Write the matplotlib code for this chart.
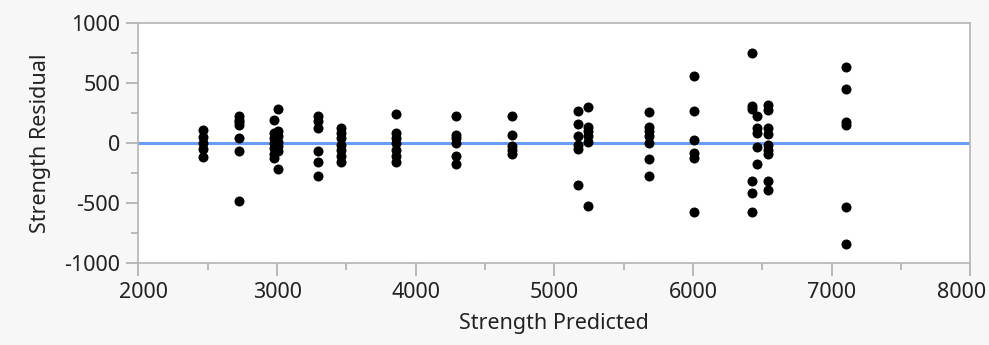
import matplotlib.pyplot as plt
from matplotlib.transforms import ScaledTranslation

plt.rcParams['font.family'] = ['Noto Sans', 'DejaVu Sans']
plt.rcParams['axes.unicode_minus'] = False

# predicted strength of each group, and the residuals measured at it
predicted = [2463, 2727, 2980, 3010, 3297, 3459, 3856, 4289, 4697,
             5169, 5241, 5686, 6005, 6424, 6460, 6544, 7104]
residuals = [
    [105, 45, 0, -55, -115],
    [225, 192, 170, 150, 39, -72, -482],
    [190, 80, 40, 0, -40, -90, -130],
    [284, 95, 55, 10, -30, -70, -220],
    [220, 184, 123, -72, -156, -281],
    [123, 81, 40, -20, -58, -114, -156],
    [240, 81, 39, -3, -58, -109, -156],
    [225, 67, 39, -3, -109, -175],
    [225, 67, -25, -58, -92],
    [270, 156, 53, -17, -53, -351],
    [298, 136, 95, 53, 11, -524],
    [256, 136, 95, 53, -3, -134, -273],
    [560, 270, 25, -86, -128, -579],
    [749, 309, 281, -323, -420, -574],
    [225, 123, 81, -31, -175],
    [317, 276, 123, 75, -17, -58, -94, -323, -393],
    [632, 449, 178, 150, -537, -844],
]

xs = []
ys = []
for p, res in zip(predicted, residuals):
    for r in res:
        xs.append(p)
        ys.append(r)

fig = plt.figure(figsize=(9.89, 3.45), dpi=100, facecolor='#f7f7f7')
ax = fig.add_axes([0.140, 0.239, 0.841, 0.694])
ax.set_facecolor('white')

ax.axhline(0, color='#6a9cf5', linewidth=2.2, zorder=1)
ax.scatter(xs, ys, s=52, color='black', zorder=2, linewidths=0)

ax.set_xlim(2000, 8000)
ax.set_ylim(-1000, 1000)
ax.set_xticks(range(2000, 8001, 1000))
ax.set_yticks(range(-1000, 1001, 500))
ax.set_xticks(range(2500, 8000, 1000), minor=True)
ax.set_yticks(range(-750, 1000, 500), minor=True)

for side in ax.spines.values():
    side.set_color('#b4b4b4')
    side.set_linewidth(1.2)

ax.tick_params(which='major', direction='out', length=9, width=1.1,
               color='#a8a8a8', labelsize=15.5, labelcolor='#222222')
ax.tick_params(axis='x', which='major', pad=5)
ax.tick_params(axis='y', which='major', pad=4)
ax.tick_params(which='minor', direction='out', length=5, width=1.1,
               color='#a8a8a8')

# keep the end labels inside the figure
xlabels = ax.get_xticklabels()
xlabels[0].set_transform(xlabels[0].get_transform()
                         + ScaledTranslation(5 / 100, 0, fig.dpi_scale_trans))
xlabels[-1].set_transform(xlabels[-1].get_transform()
                          + ScaledTranslation(-9 / 100, 0, fig.dpi_scale_trans))

ax.set_xlabel('Strength Predicted', fontsize=15.5, color='#222222', labelpad=7)
ax.set_ylabel('Strength Residual', fontsize=15.5, color='#222222', labelpad=10)

fig.savefig('out.png', dpi=100, facecolor=fig.get_facecolor())
